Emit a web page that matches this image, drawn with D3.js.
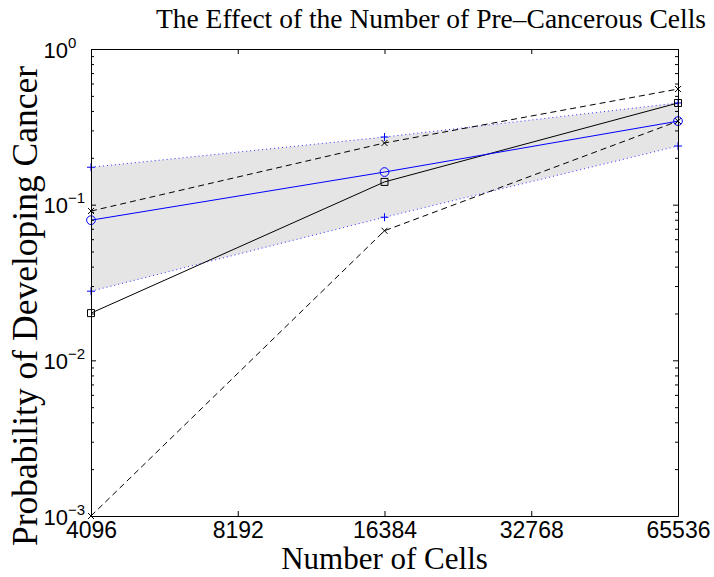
<!DOCTYPE html>
<html>
<head>
<meta charset="utf-8">
<script src="https://cdn.jsdelivr.net/npm/d3@7"></script>
<style>
  body { margin: 0; background: #fff; }
  svg { display: block; }
</style>
</head>
<body>
<svg id="chart" width="714" height="577"></svg>
<script>
var cells = [4096, 16384, 65536];
var meanProb = [0.0795, 0.162, 0.344];
var upperBound = [0.174, 0.272, 0.45];
var lowerBound = [0.0278, 0.083, 0.238];
var solidProb = [0.0201, 0.14, 0.45];
var dashedHigh = [0.091, 0.249, 0.553];
var dashedLow = [0.001, 0.068, 0.344];
var xTicks = [4096, 8192, 16384, 32768, 65536];
var yTicks = [1e-3, 1e-2, 1e-1, 1];
var yExponents = ['\u22123', '\u22122', '\u22121', '0'];

var margin = { left: 91, right: 36, top: 49, bottom: 61 };
var width = 714, height = 577;

var svg = d3.select('#chart');

var x = d3.scaleLog().base(2).domain([4096, 65536])
  .range([margin.left, width - margin.right]);
var y = d3.scaleLog().domain([1e-3, 1])
  .range([height - margin.bottom, margin.top]);

var minorTicks = [];
[1e-3, 1e-2, 1e-1].forEach(function (d) {
  for (var k = 2; k < 10; k++) minorTicks.push(d * k);
});

function pts(vals) {
  return cells.map(function (c, i) { return [c, vals[i]]; });
}

var line = d3.line()
  .x(function (d) { return x(d[0]); })
  .y(function (d) { return y(d[1]); });

// confidence band
var band = d3.area()
  .x(function (d) { return x(d[0]); })
  .y0(function (d) { return y(d[1]); })
  .y1(function (d) { return y(d[2]); });

svg.append('path')
  .datum(cells.map(function (c, i) { return [c, lowerBound[i], upperBound[i]]; }))
  .attr('d', band)
  .attr('fill', '#e5e5e5')
  .attr('stroke', 'none');

function drawLine(vals, color, dash) {
  svg.append('path')
    .datum(pts(vals))
    .attr('d', line)
    .attr('fill', 'none')
    .attr('stroke', color)
    .attr('stroke-width', 1)
    .attr('stroke-dasharray', dash);
}

drawLine(upperBound, '#3333ff', '1,3');
drawLine(lowerBound, '#3333ff', '1,3');
drawLine(dashedHigh, '#000', '6,4');
drawLine(dashedLow, '#000', '6,4');
drawLine(solidProb, '#000', null);
drawLine(meanProb, '#0000ff', null);

function markers(vals, shape, color) {
  var g = svg.append('g')
    .attr('fill', 'none')
    .attr('stroke', color)
    .attr('stroke-width', 1);
  var sel = g.selectAll('path').data(pts(vals)).enter().append('path');
  sel.attr('transform', function (d) {
    return 'translate(' + x(d[0]) + ',' + y(d[1]) + ')';
  });
  if (shape === 'plus') sel.attr('d', 'M-4,0H4M0,-4V4');
  if (shape === 'cross') sel.attr('d', 'M-3,-3L3,3M-3,3L3,-3');
  if (shape === 'square') sel.attr('d', 'M-3.5,-3.5H3.5V3.5H-3.5Z');
  if (shape === 'circle') sel.attr('d', d3.symbol(d3.symbolCircle, 60)());
}

markers(upperBound, 'plus', '#0000ff');
markers(lowerBound, 'plus', '#0000ff');
markers(dashedHigh, 'cross', '#000');
markers(dashedLow, 'cross', '#000');
markers(solidProb, 'square', '#000');
markers(meanProb, 'circle', '#0000ff');

// axes
var bottomAxis = svg.append('g')
  .attr('transform', 'translate(0,' + (height - margin.bottom) + ')')
  .call(d3.axisBottom(x).tickValues(xTicks).tickFormat(d3.format('d'))
    .tickSizeInner(-5).tickSizeOuter(0).tickPadding(6));
bottomAxis.selectAll('text')
  .attr('font-family', '"Liberation Sans", Arial, sans-serif')
  .attr('font-size', 23)
  .attr('fill', '#000');

svg.append('g')
  .attr('transform', 'translate(0,' + margin.top + ')')
  .call(d3.axisTop(x).tickValues(xTicks).tickFormat('')
    .tickSizeInner(-5).tickSizeOuter(0));

svg.append('g')
  .attr('transform', 'translate(' + margin.left + ',0)')
  .call(d3.axisLeft(y).tickValues(yTicks).tickFormat('')
    .tickSizeInner(-5).tickSizeOuter(0));

svg.append('g')
  .attr('transform', 'translate(' + margin.left + ',0)')
  .call(d3.axisLeft(y).tickValues(minorTicks).tickFormat('')
    .tickSizeInner(-3).tickSizeOuter(0))
  .select('.domain').remove();

svg.append('g')
  .attr('transform', 'translate(' + (width - margin.right) + ',0)')
  .call(d3.axisRight(y).tickValues(yTicks).tickFormat('')
    .tickSizeInner(-5).tickSizeOuter(0));

svg.append('g')
  .attr('transform', 'translate(' + (width - margin.right) + ',0)')
  .call(d3.axisRight(y).tickValues(minorTicks).tickFormat('')
    .tickSizeInner(-3).tickSizeOuter(0))
  .select('.domain').remove();

svg.selectAll('.domain, .tick line').attr('stroke', '#000');

// y tick labels with superscript exponents
var yLab = svg.append('g')
  .attr('font-family', '"Liberation Sans", Arial, sans-serif')
  .attr('fill', '#000');
yTicks.forEach(function (t, i) {
  yLab.append('text')
    .attr('x', margin.left - 23)
    .attr('y', y(t) + 8.5)
    .attr('text-anchor', 'end')
    .attr('font-size', 22)
    .text('10');
  yLab.append('text')
    .attr('x', margin.left - 23)
    .attr('y', y(t) - 1.5)
    .attr('font-size', 15)
    .text(yExponents[i]);
});

// titles
svg.append('text')
  .attr('x', 431)
  .attr('y', 28)
  .attr('text-anchor', 'middle')
  .attr('font-family', '"Liberation Serif", "Times New Roman", serif')
  .attr('font-size', 27.5)
  .text('The Effect of the Number of Pre\u2013Cancerous Cells');

svg.append('text')
  .attr('x', (margin.left + width - margin.right) / 2)
  .attr('y', 569)
  .attr('text-anchor', 'middle')
  .attr('font-family', '"Liberation Serif", "Times New Roman", serif')
  .attr('font-size', 31)
  .text('Number of Cells');

svg.append('text')
  .attr('transform', 'translate(37,306) rotate(-90)')
  .attr('text-anchor', 'middle')
  .attr('font-family', '"Liberation Serif", "Times New Roman", serif')
  .attr('font-size', 35.5)
  .text('Probability of Developing Cancer');
</script>
</body>
</html>
